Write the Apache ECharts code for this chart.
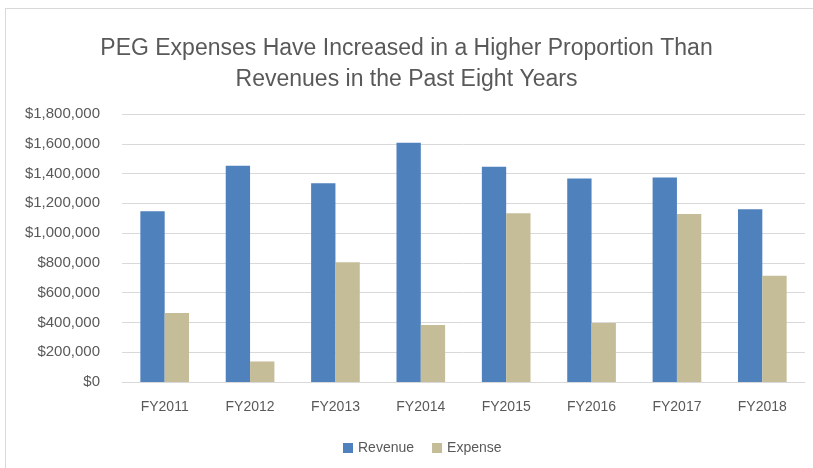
<!DOCTYPE html>
<html>
<head>
<meta charset="utf-8">
<script src="https://cdn.jsdelivr.net/npm/echarts@6/dist/echarts.min.js"></script>
<style>
  body { margin: 0; background: #fff; }
  #frame { position: absolute; left: 5px; top: 8px; width: 820px; height: 470px; border: 1px solid #d9d9d9; }
  #main { position: absolute; left: 0; top: 0; width: 813px; height: 468px; }
</style>
</head>
<body>
<div id="frame"></div>
<div id="main"></div>
<script>
var years = ['FY2011', 'FY2012', 'FY2013', 'FY2014', 'FY2015', 'FY2016', 'FY2017', 'FY2018'];
var revenue = [1147000, 1453000, 1335000, 1607000, 1446000, 1366000, 1373000, 1161000];
var expense = [463000, 138000, 805000, 382000, 1134000, 396000, 1129000, 713000];

var chart = echarts.init(document.getElementById('main'));

function money(v) {
  return '$' + v.toString().replace(/\B(?=(\d{3})+(?!\d))/g, ',');
}

var option = {
  animation: false,
  textStyle: { fontFamily: 'Liberation Sans' },
  title: {
    text: 'PEG Expenses Have Increased in a Higher Proportion Than\nRevenues in the Past Eight Years',
    left: 'center',
    top: 28,
    textStyle: {
      fontSize: 23,
      fontWeight: 'normal',
      color: '#595959',
      lineHeight: 31
    }
  },
  legend: {
    left: 338,
    top: 436,
    itemWidth: 10,
    itemHeight: 10,
    itemGap: 18,
    icon: 'rect',
    textStyle: { fontSize: 14, color: '#595959' },
    data: ['Revenue', 'Expense']
  },
  grid: {
    left: 122,
    right: 8,
    top: 114,
    bottom: 86
  },
  xAxis: {
    type: 'category',
    data: years,
    axisLine: { lineStyle: { color: '#d9d9d9' } },
    axisTick: { show: false },
    axisLabel: { color: '#595959', fontSize: 14, margin: 18 }
  },
  yAxis: {
    type: 'value',
    min: 0,
    max: 1800000,
    interval: 200000,
    axisLine: { show: false },
    axisTick: { show: false },
    splitLine: { lineStyle: { color: '#d9d9d9' } },
    axisLabel: { color: '#595959', fontSize: 15, margin: 22, formatter: money }
  },
  series: [
    {
      name: 'Revenue',
      type: 'bar',
      data: revenue,
      barGap: 0,
      barCategoryGap: '43%',
      itemStyle: { color: '#4F81BD' }
    },
    {
      name: 'Expense',
      type: 'bar',
      data: expense,
      itemStyle: { color: '#C4BD97' }
    }
  ]
};

chart.setOption(option);
</script>
</body>
</html>
